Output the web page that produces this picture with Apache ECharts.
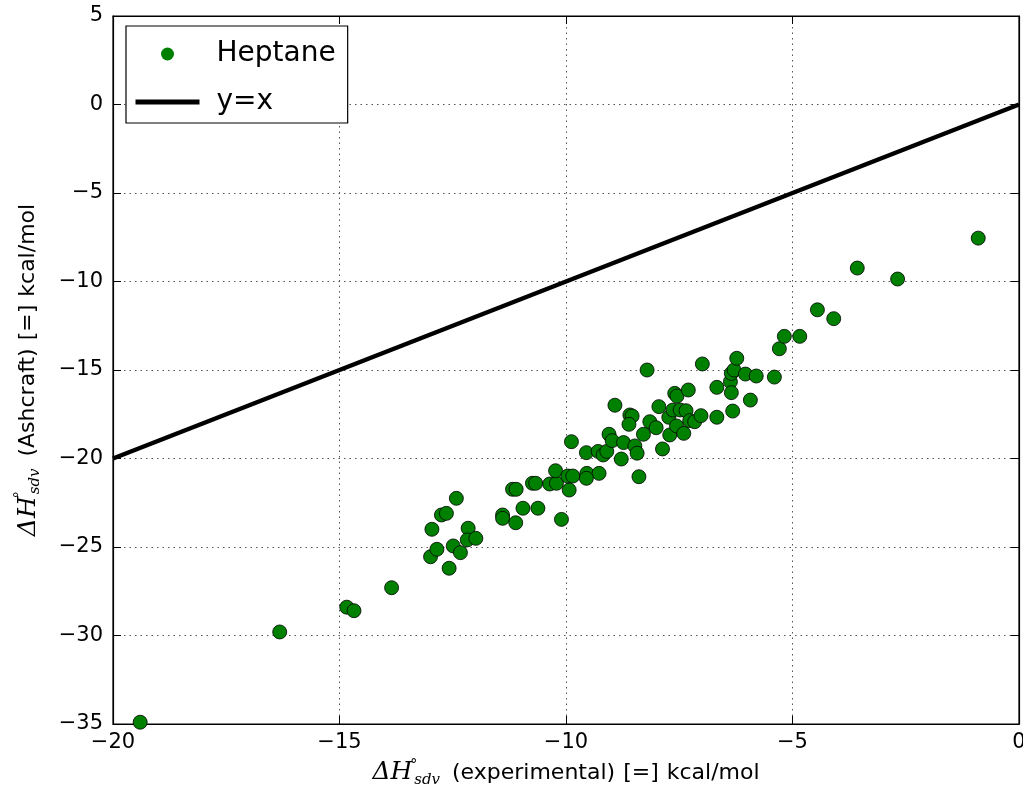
<!DOCTYPE html>
<html>
<head>
<meta charset="utf-8">
<style>
  html, body { margin: 0; padding: 0; background: #fff; }
  #chart { width: 1023px; height: 788px; }
</style>
<script src="https://cdn.jsdelivr.net/npm/echarts@6/dist/echarts.min.js"></script>
</head>
<body>
<div id="chart"></div>
<script>
// Experimental vs. Ashcraft-estimated solvation enthalpies in heptane (kcal/mol)
const experimental = [
  -19.40, -16.32, -14.84, -14.68, -13.85, -12.99, -12.85, -12.58, -12.49, -12.33,
  -12.96, -12.75, -12.64, -12.42, -12.16, -12.18, -11.99, -11.40, -11.40, -11.11,
  -11.18, -11.10, -10.95, -10.62, -10.74, -10.67, -10.36, -10.21, -10.10, -9.93,
  -10.23, -9.96, -9.85, -9.54, -9.27, -9.55, -9.88, -9.55, -9.29, -9.18,
  -9.10, -9.05, -8.98, -8.78, -8.73, -8.48, -8.43, -8.39, -8.92, -8.59,
  -8.54, -8.61, -8.29, -8.15, -8.01, -7.95, -7.87, -8.21, -7.71, -7.73,
  -7.64, -7.60, -7.55, -7.56, -7.48, -7.40, -7.35, -7.30, -7.27, -7.16,
  -7.02, -6.99, -6.67, -6.67, -6.37, -6.35, -6.35, -6.32, -6.29, -6.23,
  -6.04, -5.93, -5.80, -5.40, -5.29, -5.18, -4.84, -4.45, -4.09, -3.57,
  -2.68, -0.90
];
const ashcraft = [
  -34.90, -29.80, -28.40, -28.60, -27.30, -25.55, -25.13, -26.20, -24.94, -25.32,
  -24.00, -23.19, -23.10, -22.25, -23.94, -24.60, -24.51, -23.19, -23.38, -23.63,
  -21.74, -21.74, -22.81, -22.81, -21.40, -21.40, -21.44, -21.40, -23.44, -21.78,
  -20.69, -20.99, -20.99, -20.84, -20.84, -21.12, -19.05, -19.67, -19.60, -19.80,
  -19.60, -18.63, -18.99, -20.03, -19.10, -19.29, -19.70, -21.03, -16.99, -17.54,
  -17.60, -18.07, -18.63, -17.92, -18.26, -17.07, -19.46, -15.00, -18.67, -17.67,
  -17.26, -16.32, -16.47, -18.16, -17.26, -18.58, -17.30, -16.13, -17.86, -17.92,
  -17.58, -14.66, -15.98, -17.67, -15.66, -16.28, -15.19, -17.32, -15.00, -14.34,
  -15.23, -16.70, -15.34, -15.40, -13.80, -13.10, -13.10, -11.60, -12.10, -9.24,
  -9.86, -7.55
];
// Reference line y = x
const parityX = [-20, 0];
const parityY = [-20, 0];

const xTicks = { min: -20, max: 0, interval: 5 };
const yTicks = { min: -35, max: 5, interval: 5 };

const fmt = v => (v < 0 ? '\u2212' + Math.abs(v) : String(v));

const chart = echarts.init(document.getElementById('chart'), null, { renderer: 'canvas' });

// ΔH with a stacked degree superscript and "sdv" subscript
const titleRich = {
  d: { fontFamily: 'DejaVu Serif', fontStyle: 'italic', fontSize: 25, color: '#000', padding: [0, 1, 0, 0] },
  sup: { fontFamily: 'DejaVu Sans', fontSize: 14, verticalAlign: 'top', lineHeight: 12, width: 1, color: '#000' },
  sub: { fontFamily: 'DejaVu Serif', fontStyle: 'italic', fontSize: 15, verticalAlign: 'bottom', lineHeight: 18, color: '#000', padding: [0, 5, 0, 0] },
  eq: { fontFamily: 'DejaVu Sans', fontSize: 22, color: '#000', padding: [0, 8, 0, 8] }
};
const nameStyle = { fontFamily: 'DejaVu Sans', fontSize: 22, color: '#000', lineHeight: 30, rich: titleRich };

const tickStyle = { show: true, inside: true, length: 8, lineStyle: { color: '#000', width: 1 } };
const gridLine = { show: true, lineStyle: { color: '#555', type: [1.5, 4], width: 1 } };
const axisLineStyle = { show: true, onZero: false, lineStyle: { color: '#000', width: 1.2 } };

chart.setOption({
  animation: false,
  backgroundColor: '#fff',
  grid: {
    left: 113, right: 4, top: 16, bottom: 64,
    outerBoundsMode: 'none',
    show: true, borderColor: '#000', borderWidth: 1.2
  },
  legend: {
    left: 126, top: 26,
    orient: 'vertical',
    backgroundColor: '#fff',
    borderColor: '#000', borderWidth: 1.2, borderRadius: 0,
    padding: [14, 12, 7, 7],
    itemGap: 20,
    itemWidth: 64, itemHeight: 13,
    lineStyle: { width: 'inherit' },
    textStyle: { fontFamily: 'DejaVu Sans', fontSize: 28, color: '#000', padding: [0, 0, 0, 12] },
    data: [
      { name: 'Heptane', icon: 'circle', itemStyle: { borderWidth: 0 } },
      { name: 'y=x', itemStyle: { opacity: 0 }, lineStyle: { width: 5 } }
    ]
  },
  xAxis: [
    {
      type: 'value', position: 'bottom', ...xTicks,
      name: '{d|ΔH}{sup|°}{sub|sdv} (experimental){eq|[=]}kcal/mol',
      nameLocation: 'middle', nameGap: 33,
      nameTextStyle: nameStyle,
      axisLine: axisLineStyle,
      axisTick: tickStyle,
      axisLabel: { fontFamily: 'DejaVu Sans', fontSize: 21, color: '#000', margin: 8, formatter: fmt },
      splitLine: gridLine
    },
    {
      type: 'value', position: 'top', ...xTicks,
      axisLine: axisLineStyle,
      axisTick: tickStyle,
      axisLabel: { show: false },
      splitLine: { show: false }
    }
  ],
  yAxis: [
    {
      type: 'value', position: 'left', ...yTicks,
      name: '{d|ΔH}{sup|°}{sub|sdv} (Ashcraft){eq|[=]}kcal/mol',
      nameLocation: 'middle', nameGap: 70, nameRotate: 90,
      nameTextStyle: nameStyle,
      axisLine: axisLineStyle,
      axisTick: tickStyle,
      axisLabel: { fontFamily: 'DejaVu Sans', fontSize: 21, color: '#000', margin: 10, formatter: fmt },
      splitLine: gridLine
    },
    {
      type: 'value', position: 'right', ...yTicks,
      axisLine: axisLineStyle,
      axisTick: tickStyle,
      axisLabel: { show: false },
      splitLine: { show: false }
    }
  ],
  series: [
    {
      name: 'Heptane',
      type: 'scatter',
      xAxisIndex: 0, yAxisIndex: 0,
      data: experimental.map((x, i) => [x, ashcraft[i]]),
      symbol: 'circle',
      symbolSize: 14,
      itemStyle: { color: '#008000', borderColor: '#000', borderWidth: 0.8, opacity: 1 },
      z: 3
    },
    {
      name: 'y=x',
      type: 'line',
      xAxisIndex: 0, yAxisIndex: 0,
      data: parityX.map((x, i) => [x, parityY[i]]),
      showSymbol: false, symbol: 'none',
      lineStyle: { color: '#000', width: 4.5 },
      itemStyle: { color: '#000' },
      z: 4
    }
  ]
});
</script>
</body>
</html>
